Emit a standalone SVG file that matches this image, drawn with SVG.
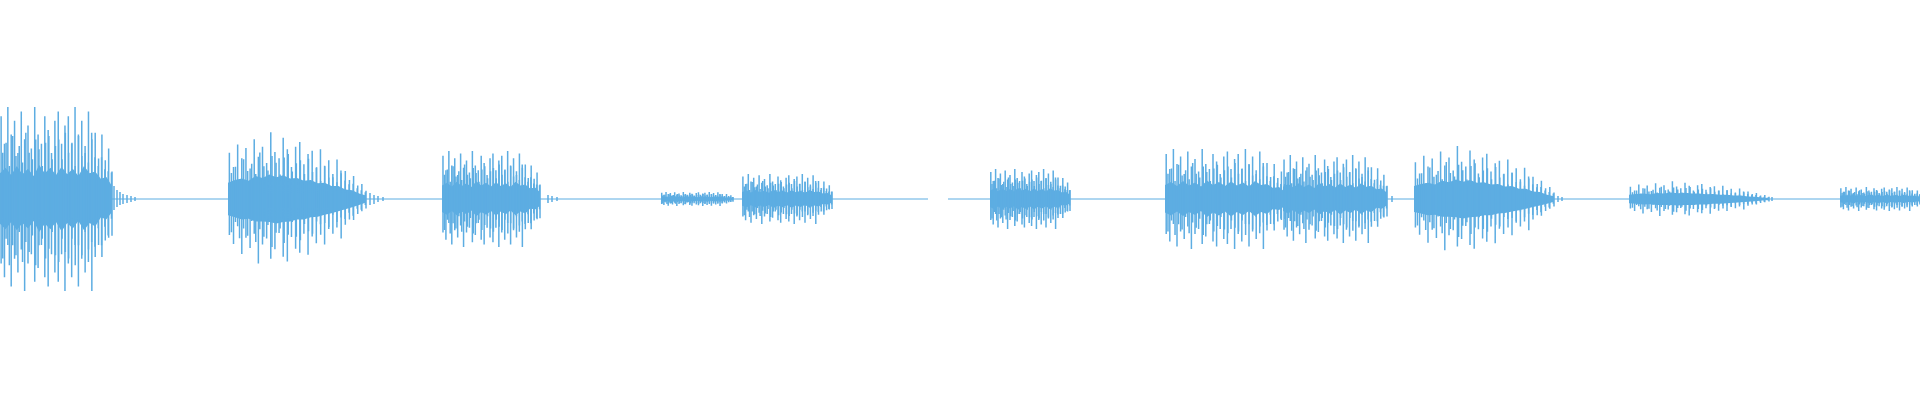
<svg xmlns="http://www.w3.org/2000/svg" width="1920" height="400" viewBox="0 0 1920 400">
<style>
.sp{fill:none;stroke:#5dade2;stroke-width:1.5;vector-effect:non-scaling-stroke}
.bd{fill:#5dade2;stroke:none}
.bl{stroke:#5dade2;stroke-width:1;fill:none}
</style>
<defs>
<path id="sa" class="sp" d="M1-90V70M4-60V85M7-100V50M10-70V95M13-85V65M16-50V80M19-95V55M22-65V100M25-80V70M28-55V60M31-100V90M34-70V75M37-60V50M40-90V85M43-75V95M46-50V60M49-85V80M52-95V90M55-60V60M58-80V100M61-90V70M64-60V85M67-100V50M70-70V95M73-85V65M76-50V80M79-95V55M82-65V100M85-72V63M88-44V50M91-70V63M94-42V45M97-55V42M100-30V40"/>
<path id="sb" class="sp" d="M1-68V53M4-47V66M7-80V40M10-60V81M13-75V57M16-45V72M19-88V51M22-62V95M25-77V67M28-53V58M31-98V88M34-69V74M37-60V50M40-90V85M43-73V92M46-47V56M49-77V73M52-84V79M55-51V51M58-66V82M61-71V55M64-46V65M67-73V37M70-49V67M73-57V44M76-32V51M79-58V34M82-38V58M85-41V38M88-28V30M91-34V31M94-20V22M97-22V18M100-12V14"/>
<g id="pa">
<path class="bd" d="M0,-28 L5,-34 10,-26 15,-36 20,-27 25,-33 30,-25 35,-37 40,-28 45,-34 50,-26 55,-35 60,-27 65,-33 70,-25 75,-36 80,-28 85,-30 90,-22 95,-24 100,-14 V14 L95,22 90,20 85,30 80,26 75,34 70,24 65,32 60,26 55,35 50,25 45,33 40,27 35,36 30,24 25,32 20,26 15,34 10,25 5,33 0,27Z"/>
<use href="#sa"/>
<use href="#sa" transform="translate(1.5,0) scale(0.98,-0.72)"/>
</g>
<g id="pb">
<path class="bd" d="M0,-24 L5,-28 10,-30 15,-27 20,-34 25,-31 30,-36 35,-32 40,-35 45,-30 50,-31 55,-27 60,-28 65,-23 70,-24 75,-19 80,-19 85,-14 90,-13 95,-8 100,-5 V5 L95,9 90,12 85,15 80,18 75,21 70,23 65,26 60,27 55,30 50,30 45,33 40,34 35,36 30,34 25,33 20,33 15,29 10,30 5,27 0,24Z"/>
<use href="#sb"/>
<use href="#sb" transform="translate(1.5,0) scale(0.98,-0.72)"/>
</g>
</defs>
<g id="baseline">
<path class="bl" d="M0 199H928M948 199H1920"/>
</g>
<g id="tails" class="sp">
<path d="M114 186V210M117 190V207M120 192V205M123 194V204M127 195V203M131 196V202M135 197V201M370 193V205M374 195V204M378 196V202M383 197V201M548 195V203M552 196V202M557 197V201M1392 196V202M1558 196V202M1562 197V201M1772 197V201"/>
</g>
<g id="blob1"><use href="#pa" transform="translate(0,199) scale(1.12,0.92)"/></g>
<g id="blob2"><use href="#pb" transform="translate(228,199) scale(1.38,0.68)"/></g>
<g id="blob3"><use href="#pa" transform="translate(442,199) scale(0.98,0.48)"/></g>
<g id="blob4"><use href="#pa" transform="translate(661,199) scale(0.72,0.07)"/></g>
<g id="blob5"><use href="#pa" transform="translate(742,199) scale(0.9,0.25)"/></g>
<g id="blob6"><use href="#pa" transform="translate(990,199) scale(0.8,0.3)"/></g>
<g id="blob7"><use href="#pa" transform="translate(1165,199) scale(1.2,0.5)"/></g>
<g id="blob8"><use href="#pa" transform="translate(1283,199) scale(1.04,0.44)"/></g>
<g id="blob9"><use href="#pb" transform="translate(1414,199) scale(1.4,0.54)"/></g>
<g id="blob10"><use href="#pb" transform="translate(1629,199) scale(1.4,0.18)"/></g>
<g id="blob11"><use href="#pa" transform="translate(1840,199) scale(0.85,0.12)"/></g>
</svg>
